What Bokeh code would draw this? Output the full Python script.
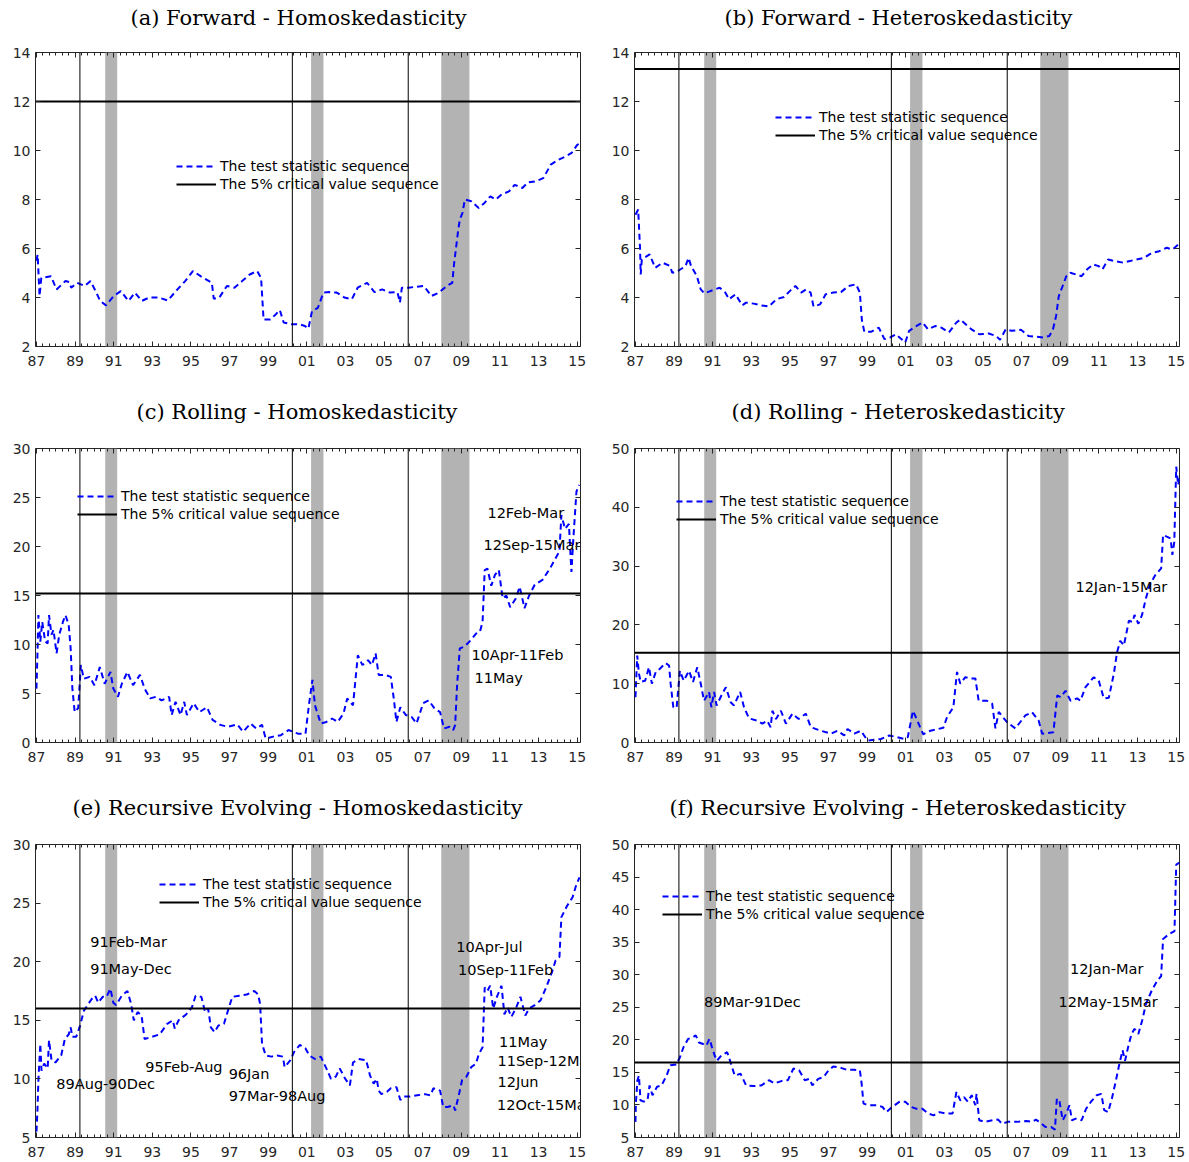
from bokeh.plotting import figure
from bokeh.layouts import column, row
from bokeh.models import (Range1d, FixedTicker, LinearAxis, Legend, LegendItem,
                          BoxAnnotation, Span, CustomLabelingPolicy)
from bokeh.core.properties import value
from bokeh.embed import file_html
from bokeh.resources import INLINE
import numpy as np

# ---------------- shared data ----------------
X_LO, X_HI = 1986.95, 2015.17
x_tick_years = [1987, 1989, 1991, 1993, 1995, 1997, 1999, 2001, 2003, 2005,
                2007, 2009, 2011, 2013, 2015]
x_tick_labels = ["87", "89", "91", "93", "95", "97", "99", "01", "03", "05",
                 "07", "09", "11", "13", "15"]
recession_start = [1990.56, 2001.22, 2007.96]
recession_end = [1991.18, 2001.86, 2009.42]
event_years = [1989.25, 2000.25, 2006.25]

# ---------------- (a) Forward - Homoskedasticity ----------------
a_year = [1987.00, 1987.06, 1987.16, 1987.25, 1987.75, 1988.04, 1988.50, 1988.70, 1988.80, 1989.10,
          1989.50, 1989.80, 1990.10, 1990.30, 1990.60, 1991.00, 1991.37, 1991.76, 1992.10, 1992.45,
          1992.84, 1993.33, 1993.80, 1994.30, 1994.70, 1995.10, 1995.50, 1995.78, 1996.08, 1996.18,
          1996.47, 1996.86, 1997.25, 1997.65, 1998.04, 1998.43, 1998.63, 1998.76, 1999.10, 1999.40,
          1999.60, 1999.80, 2000.20, 2000.60, 2000.90, 2001.08, 2001.27, 2001.57, 2001.86, 2002.16,
          2002.55, 2002.94, 2003.33, 2003.63, 2004.12, 2004.50, 2004.90, 2005.30, 2005.69, 2005.82,
          2005.92, 2006.27, 2006.67, 2007.06, 2007.45, 2007.84, 2008.24, 2008.53, 2008.63, 2008.82,
          2008.92, 2009.06, 2009.18, 2009.51, 2009.90, 2010.20, 2010.50, 2010.78, 2011.08, 2011.47,
          2011.76, 2012.16, 2012.45, 2012.84, 2013.24, 2013.63, 2014.02, 2014.41, 2014.71, 2015.00,
          2015.15]
a_stat = [5.5, 5.75, 4.06, 4.8, 4.87, 4.33, 4.67, 4.63, 4.4, 4.6,
          4.47, 4.67, 4.2, 3.86, 3.68, 4.06, 4.26, 3.86, 4.2, 3.86,
          4.0, 4.0, 3.88, 4.33, 4.67, 5.08, 4.87, 4.74, 4.6, 3.95,
          4.0, 4.47, 4.4, 4.67, 4.94, 5.08, 4.8, 3.1, 3.1, 3.32,
          3.49, 2.98, 2.91, 2.91, 2.84, 2.73, 3.45, 3.58, 4.2, 4.22,
          4.2, 4.0, 3.93, 4.4, 4.6, 4.22, 4.33, 4.2, 4.22, 3.79,
          4.4, 4.4, 4.44, 4.47, 4.06, 4.2, 4.47, 4.6, 5.42, 6.64,
          7.18, 7.45, 8.0, 7.93, 7.65, 7.86, 8.13, 8.0, 8.2, 8.33,
          8.6, 8.47, 8.7, 8.74, 8.87, 9.42, 9.62, 9.76, 9.9, 10.23,
          10.3]
a_crit = 12.0

# ---------------- (b) Forward - Heteroskedasticity ----------------
b_year = [1987.00, 1987.14, 1987.24, 1987.27, 1987.33, 1987.73, 1988.02, 1988.41, 1988.80, 1988.90,
          1989.20, 1989.59, 1989.75, 1989.88, 1990.18, 1990.38, 1990.57, 1990.87, 1991.36, 1991.65,
          1991.85, 1992.18, 1992.53, 1992.73, 1993.12, 1993.51, 1993.91, 1994.30, 1994.69, 1994.99,
          1995.28, 1995.58, 1995.83, 1996.07, 1996.22, 1996.56, 1996.85, 1997.24, 1997.64, 1998.03,
          1998.42, 1998.62, 1998.72, 1998.85, 1999.20, 1999.60, 1999.89, 2000.19, 2000.48, 2000.78,
          2000.97, 2001.17, 2001.56, 2001.86, 2002.15, 2002.54, 2002.84, 2003.23, 2003.62, 2003.82,
          2004.11, 2004.40, 2004.80, 2005.29, 2005.68, 2005.88, 2006.17, 2006.47, 2006.96, 2007.35,
          2007.74, 2008.13, 2008.43, 2008.62, 2008.78, 2008.92, 2009.12, 2009.31, 2009.51, 2009.80,
          2010.10, 2010.39, 2010.69, 2010.98, 2011.18, 2011.47, 2011.86, 2012.26, 2012.55, 2012.94,
          2013.33, 2013.73, 2014.12, 2014.51, 2014.81, 2015.10]
b_stat = [7.38, 7.59, 5.96, 4.94, 5.55, 5.76, 5.21, 5.42, 5.28, 5.01,
          5.08, 5.28, 5.62, 5.28, 4.87, 4.33, 4.17, 4.26, 4.4, 4.2,
          3.93, 4.13, 3.68, 3.79, 3.75, 3.68, 3.63, 3.93, 4.02, 4.26,
          4.47, 4.2, 4.33, 4.2, 3.63, 3.72, 4.13, 4.2, 4.22, 4.47,
          4.54, 4.2, 3.1, 2.6, 2.6, 2.77, 2.3, 2.37, 2.5, 2.3,
          2.16, 2.64, 2.84, 2.98, 2.7, 2.84, 2.77, 2.57, 2.98, 3.1,
          2.9, 2.7, 2.5, 2.53, 2.43, 2.27, 2.7, 2.64, 2.68, 2.43,
          2.4, 2.37, 2.43, 2.7, 3.25, 4.06, 4.47, 4.87, 5.01, 4.94,
          4.87, 5.15, 5.35, 5.28, 5.15, 5.55, 5.48, 5.42, 5.48, 5.55,
          5.62, 5.82, 5.89, 6.03, 5.96, 6.16]
b_crit = 13.33

# ---------------- (c) Rolling - Homoskedasticity ----------------
c_year = [1987.00, 1987.05, 1987.10, 1987.20, 1987.30, 1987.45, 1987.58, 1987.65, 1987.78, 1987.88,
          1988.04, 1988.18, 1988.37, 1988.50, 1988.67, 1988.77, 1988.86, 1988.98, 1989.16, 1989.30,
          1989.45, 1989.75, 1990.00, 1990.28, 1990.53, 1990.83, 1990.98, 1991.22, 1991.42, 1991.71,
          1992.00, 1992.36, 1992.60, 1992.89, 1993.18, 1993.48, 1993.87, 1994.00, 1994.20, 1994.46,
          1994.65, 1994.79, 1995.14, 1995.44, 1995.83, 1996.12, 1996.52, 1996.91, 1997.40, 1997.70,
          1998.09, 1998.38, 1998.68, 1998.87, 1999.26, 1999.66, 2000.05, 2000.54, 2000.93, 2001.13,
          2001.29, 2001.42, 2001.72, 2002.01, 2002.31, 2002.60, 2002.90, 2003.09, 2003.39, 2003.64,
          2003.88, 2004.17, 2004.37, 2004.56, 2004.72, 2005.05, 2005.35, 2005.50, 2005.64, 2005.84,
          2006.13, 2006.43, 2006.68, 2007.02, 2007.31, 2007.60, 2007.90, 2008.10, 2008.39, 2008.58,
          2008.68, 2008.78, 2008.92, 2009.17, 2009.47, 2009.76, 2009.96, 2010.10, 2010.21, 2010.35,
          2010.55, 2010.74, 2010.94, 2011.14, 2011.33, 2011.53, 2011.82, 2012.02, 2012.27, 2012.51,
          2012.80, 2013.20, 2013.59, 2013.88, 2014.08, 2014.18, 2014.37, 2014.57, 2014.70, 2014.80,
          2014.96, 2015.10]
c_stat = [5.5, 8.9, 13.0, 10.3, 12.3, 10.3, 10.1, 13.0, 11.0, 11.5,
          9.1, 11.0, 12.3, 13.0, 12.0, 9.6, 5.5, 3.1, 3.5, 7.9,
          6.5, 6.7, 5.85, 7.7, 6.0, 7.2, 5.5, 4.66, 6.0, 7.2,
          5.85, 6.9, 5.5, 4.5, 4.66, 4.3, 4.66, 2.8, 4.15, 2.8,
          4.15, 2.8, 4.0, 3.1, 3.6, 2.3, 1.8, 1.6, 1.84, 1.1,
          1.94, 1.43, 1.8, 0.4, 0.6, 0.75, 1.27, 0.9, 0.9, 4.15,
          6.4, 3.8, 1.94, 2.1, 2.45, 2.1, 2.96, 4.5, 3.8, 8.9,
          7.9, 8.4, 7.9, 9.1, 6.9, 6.9, 6.7, 4.5, 2.1, 3.6,
          2.8, 2.6, 1.94, 4.0, 4.3, 3.5, 3.1, 1.43, 1.6, 1.27,
          1.8, 5.85, 9.6, 9.8, 10.4, 11.1, 11.3, 12.3, 17.6, 17.75,
          16.0, 17.1, 17.6, 14.7, 15.0, 13.8, 14.7, 15.9, 13.7, 15.0,
          16.1, 16.6, 17.75, 18.8, 19.5, 23.2, 21.8, 22.3, 17.4, 20.8,
          25.6, 26.3]
c_crit = 15.2
c_notes = ["12Feb-Mar", "12Sep-15Mar", "10Apr-11Feb", "11May"]
c_note_x = [2010.35, 2010.15, 2009.52, 2009.68]
c_note_y = [23.4, 20.2, 8.9, 6.6]

# ---------------- (d) Rolling - Heteroskedasticity ----------------
d_year = [1987.00, 1987.09, 1987.18, 1987.27, 1987.50, 1987.70, 1987.85, 1988.05, 1988.25, 1988.56,
          1988.74, 1988.82, 1988.96, 1989.13, 1989.30, 1989.50, 1989.77, 1989.98, 1990.20, 1990.38,
          1990.55, 1990.81, 1990.93, 1991.07, 1991.20, 1991.45, 1991.68, 1991.93, 1992.10, 1992.42,
          1992.62, 1992.88, 1993.31, 1993.57, 1993.82, 1994.00, 1994.09, 1994.28, 1994.53, 1994.79,
          1995.13, 1995.45, 1995.82, 1996.08, 1996.60, 1997.12, 1997.46, 1997.81, 1997.98, 1998.33,
          1998.67, 1999.02, 1999.71, 2000.14, 2000.57, 2000.92, 2001.10, 2001.37, 2001.90, 2002.27,
          2002.94, 2003.13, 2003.46, 2003.65, 2003.82, 2004.08, 2004.34, 2004.60, 2004.77, 2005.20,
          2005.47, 2005.64, 2005.81, 2006.24, 2006.67, 2007.19, 2007.54, 2007.88, 2008.06, 2008.64,
          2008.84, 2009.02, 2009.27, 2009.53, 2009.87, 2010.04, 2010.30, 2010.73, 2010.99, 2011.25,
          2011.51, 2011.77, 2011.94, 2012.10, 2012.29, 2012.55, 2012.74, 2012.84, 2013.04, 2013.23,
          2013.43, 2013.63, 2013.92, 2014.22, 2014.32, 2014.51, 2014.71, 2014.80, 2014.90, 2015.00,
          2015.10, 2015.17]
d_stat = [7.7, 14.8, 11.7, 10.3, 10.5, 12.8, 10.0, 12.0, 12.5, 13.5,
          13.1, 10.0, 6.0, 5.9, 12.2, 10.5, 12.2, 10.3, 12.8, 10.0,
          7.1, 8.6, 6.0, 8.6, 6.3, 8.0, 9.4, 6.85, 6.3, 8.6,
          6.0, 4.1, 3.7, 3.2, 3.7, 2.6, 5.4, 4.0, 5.4, 3.2,
          4.9, 4.0, 4.9, 2.6, 2.0, 1.5, 2.0, 1.2, 2.3, 1.5,
          2.0, 0.34, 0.6, 1.2, 0.9, 0.6, 0.9, 5.4, 1.4, 2.0,
          2.5, 4.3, 6.0, 12.0, 10.0, 11.1, 10.9, 10.9, 7.1, 7.1,
          6.6, 2.4, 5.2, 3.45, 2.4, 4.6, 5.15, 3.7, 1.5, 1.75,
          8.0, 7.7, 8.8, 7.1, 7.5, 7.1, 9.4, 11.1, 10.5, 7.5,
          7.6, 11.7, 15.4, 17.3, 16.5, 20.7, 20.5, 21.7, 20.2, 21.7,
          24.5, 26.8, 28.5, 29.6, 35.3, 35.0, 34.7, 31.9, 34.1, 46.9,
          43.8, 44.9]
d_crit = 15.25
d_notes = ["12Jan-15Mar"]
d_note_x = [2009.78]
d_note_y = [26.5]

# ---------------- (e) Recursive Evolving - Homoskedasticity ----------------
e_year = [1987.00, 1987.05, 1987.10, 1987.20, 1987.26, 1987.40, 1987.58, 1987.65, 1987.78, 1987.98,
          1988.28, 1988.47, 1988.67, 1988.77, 1988.86, 1989.06, 1989.26, 1989.45, 1989.69, 1989.85,
          1990.04, 1990.20, 1990.43, 1990.63, 1990.83, 1990.98, 1991.12, 1991.42, 1991.71, 1991.90,
          1992.04, 1992.24, 1992.44, 1992.60, 1992.99, 1993.38, 1993.77, 1994.06, 1994.16, 1994.36,
          1994.75, 1995.05, 1995.24, 1995.54, 1995.73, 1995.89, 1996.03, 1996.22, 1996.42, 1996.71,
          1996.91, 1997.14, 1997.50, 1997.89, 1998.28, 1998.48, 1998.58, 1998.68, 1998.87, 1999.17,
          1999.46, 1999.76, 1999.85, 2000.15, 2000.34, 2000.64, 2000.93, 2001.13, 2001.42, 2001.72,
          2002.01, 2002.25, 2002.50, 2002.70, 2002.99, 2003.23, 2003.39, 2003.68, 2004.07, 2004.27,
          2004.46, 2004.62, 2004.72, 2004.86, 2005.15, 2005.35, 2005.64, 2005.84, 2006.03, 2006.33,
          2006.72, 2007.11, 2007.41, 2007.55, 2007.90, 2008.06, 2008.29, 2008.59, 2008.68, 2008.88,
          2009.04, 2009.27, 2009.51, 2009.76, 2009.90, 2010.10, 2010.21, 2010.35, 2010.49, 2010.65,
          2010.84, 2011.08, 2011.23, 2011.39, 2011.59, 2011.82, 2012.06, 2012.31, 2012.51, 2012.80,
          2013.10, 2013.39, 2013.69, 2013.88, 2014.08, 2014.18, 2014.47, 2014.76, 2014.96, 2015.12]
e_stat = [5.5, 7.3, 9.9, 13.0, 10.7, 11.3, 10.9, 13.3, 11.6, 11.4,
          12.0, 13.4, 13.8, 14.4, 13.6, 13.6, 14.55, 15.8, 16.4, 16.8,
          17.1, 16.5, 17.0, 17.0, 17.7, 16.5, 16.3, 17.1, 17.5, 16.4,
          15.0, 15.7, 15.4, 13.4, 13.6, 13.8, 14.7, 15.0, 14.3, 15.0,
          15.5, 16.1, 17.1, 17.0, 15.7, 16.0, 14.4, 14.0, 14.55, 14.7,
          15.8, 17.0, 17.1, 17.2, 17.5, 17.2, 16.4, 13.0, 12.0, 11.9,
          12.0, 11.9, 11.0, 11.6, 12.3, 12.9, 12.6, 12.0, 11.7, 11.9,
          10.9, 10.0, 10.2, 10.9, 10.0, 9.45, 11.4, 11.7, 11.6, 10.3,
          9.6, 10.0, 9.0, 8.7, 8.9, 9.2, 9.3, 8.2, 8.5, 8.5,
          8.6, 8.7, 8.6, 9.2, 9.0, 7.6, 7.6, 7.75, 7.3, 8.7,
          9.9, 10.2, 11.0, 11.3, 12.1, 12.7, 17.8, 17.5, 17.95, 16.0,
          17.0, 17.95, 15.5, 16.1, 15.3, 16.0, 17.0, 15.4, 16.0, 16.3,
          16.7, 17.8, 19.1, 20.1, 20.4, 23.8, 24.75, 25.5, 26.6, 27.2]
e_crit = 16.0
e_notes = ["91Feb-Mar", "91May-Dec", "89Aug-90Dec", "95Feb-Aug", "96Jan", "97Mar-98Aug",
           "10Apr-Jul", "10Sep-11Feb", "11May", "11Sep-12Mar", "12Jun", "12Oct-15Mar"]
e_note_x = [1989.78, 1989.78, 1988.03, 1992.63, 1996.95, 1996.95,
            2008.74, 2008.83, 2010.95, 2010.87, 2010.87, 2010.85]
e_note_y = [21.7, 19.4, 9.6, 11.0, 10.4, 8.5,
            21.25, 19.25, 13.15, 11.55, 9.75, 7.75]

# ---------------- (f) Recursive Evolving - Heteroskedasticity ----------------
f_year = [1987.00, 1987.02, 1987.10, 1987.18, 1987.26, 1987.43, 1987.63, 1987.73, 1987.88, 1988.12,
          1988.35, 1988.61, 1988.81, 1989.10, 1989.30, 1989.49, 1989.73, 1989.98, 1990.12, 1990.28,
          1990.47, 1990.67, 1990.83, 1990.96, 1991.10, 1991.22, 1991.45, 1991.75, 1991.95, 1992.14,
          1992.44, 1992.73, 1993.12, 1993.52, 1993.91, 1994.20, 1994.59, 1994.89, 1995.18, 1995.48,
          1995.77, 1996.01, 1996.16, 1996.46, 1996.75, 1996.99, 1997.24, 1997.64, 1997.93, 1998.32,
          1998.62, 1998.71, 1998.81, 1999.11, 1999.50, 1999.79, 1999.99, 2000.29, 2000.68, 2000.97,
          2001.27, 2001.56, 2001.86, 2002.15, 2002.44, 2002.74, 2003.03, 2003.42, 2003.62, 2003.82,
          2004.01, 2004.21, 2004.41, 2004.60, 2004.66, 2004.80, 2005.09, 2005.49, 2005.78, 2005.98,
          2006.27, 2006.76, 2007.25, 2007.55, 2007.74, 2008.04, 2008.23, 2008.53, 2008.72, 2008.82,
          2008.96, 2009.12, 2009.31, 2009.47, 2009.60, 2009.80, 2010.10, 2010.33, 2010.59, 2010.88,
          2011.12, 2011.27, 2011.47, 2011.67, 2011.86, 2012.02, 2012.22, 2012.35, 2012.55, 2012.69,
          2012.84, 2013.04, 2013.24, 2013.43, 2013.73, 2014.02, 2014.22, 2014.32, 2014.61, 2014.91,
          2015.00, 2015.17]
f_stat = [7.4, 10.2, 13.8, 14.5, 10.7, 10.5, 10.8, 13.0, 11.5, 12.8,
          13.0, 14.5, 16.1, 16.2, 17.3, 18.9, 20.15, 20.4, 20.7, 19.6,
          19.4, 19.1, 20.15, 18.9, 17.6, 16.8, 17.6, 18.1, 16.3, 14.5,
          14.8, 13.0, 12.9, 13.0, 13.8, 13.3, 13.7, 13.8, 15.6, 15.3,
          13.8, 14.0, 13.0, 14.0, 14.3, 15.3, 15.9, 15.7, 15.4, 15.4,
          15.3, 13.3, 10.2, 9.95, 9.95, 9.7, 8.9, 9.7, 10.5, 10.5,
          9.7, 9.4, 9.4, 8.7, 8.4, 8.9, 8.7, 8.7, 12.0, 10.7,
          11.2, 10.5, 11.5, 9.95, 11.7, 7.65, 7.4, 7.65, 7.75, 7.1,
          7.4, 7.4, 7.55, 7.4, 7.75, 7.1, 6.6, 6.6, 6.2, 11.0,
          10.5, 7.65, 8.7, 9.95, 7.65, 7.9, 7.65, 9.4, 10.5, 11.5,
          11.7, 9.2, 8.9, 11.0, 13.5, 15.8, 18.4, 16.8, 19.4, 20.9,
          21.7, 20.9, 23.0, 25.5, 27.55, 29.1, 29.8, 35.5, 36.2, 36.7,
          46.9, 47.2]
f_crit = 16.5
f_notes = ["89Mar-91Dec", "12Jan-Mar", "12May-15Mar"]
f_note_x = [1990.55, 2009.5, 2008.9]
f_note_y = [25.8, 30.9, 25.8]

TICK_COLOR = "#262626"
FRAME_W = 545

NO_LABELS = ("for (let i = 0; i < indices.size; i++) { indices.unset(i) }\n"
             "return indices")


def make_panel(title, xs, ys, crit, y_lo, y_hi, y_step, leg_x, leg_y,
               notes, note_x, note_y, col, row_idx, title_off):
    left_b = 35 if col == 0 else 36
    right_b = 18 if col == 0 else 8
    top_b = 52
    last_row = row_idx == 2
    frame_h = 293 if last_row else 294
    bottom_b = 24 if last_row else 50
    p = figure(width=left_b + FRAME_W + right_b, height=top_b + frame_h + bottom_b,
               x_range=Range1d(X_LO, X_HI), y_range=Range1d(y_lo, y_hi),
               output_backend="svg", toolbar_location=None,
               x_axis_type=None, y_axis_type=None,
               min_border_left=left_b, min_border_right=right_b,
               min_border_top=top_b, min_border_bottom=bottom_b)
    p.background_fill_color = "white"
    p.border_fill_color = "white"
    p.outline_line_color = TICK_COLOR
    p.outline_line_width = 1

    p.title.text = title
    p.title.text_font = "DejaVu Serif"
    p.title.text_font_size = "21px"
    p.title.text_font_style = "normal"
    p.title.text_color = "black"
    p.title.align = "left"
    p.title.offset = title_off
    p.title.standoff = 0

    x_minor = list(np.arange(1987.0, 2015.2, 1.0 / 3.0))
    xt = FixedTicker(ticks=x_tick_years, minor_ticks=x_minor)
    yt = FixedTicker(ticks=list(np.arange(y_lo, y_hi + 0.01, y_step)), minor_ticks=[])

    def style(ax, labels):
        ax.axis_line_color = None
        ax.major_tick_in = 5
        ax.major_tick_out = 0
        ax.minor_tick_in = 3
        ax.minor_tick_out = 0
        ax.major_tick_line_color = TICK_COLOR
        ax.minor_tick_line_color = TICK_COLOR
        ax.major_label_text_font = "DejaVu Sans"
        ax.major_label_text_color = TICK_COLOR
        if labels:
            ax.major_label_text_font_size = "14px"
        else:
            ax.major_label_policy = CustomLabelingPolicy(code=NO_LABELS)
            ax.major_label_text_font_size = "0px"
            ax.major_label_standoff = 0

    xb = LinearAxis(ticker=xt)
    style(xb, True)
    xb.major_label_overrides = {yr: lab for yr, lab in zip(x_tick_years, x_tick_labels)}
    xb.major_label_standoff = 9
    p.add_layout(xb, "below")
    # top mirror ticks
    xa = LinearAxis(ticker=xt)
    style(xa, False)
    p.add_layout(xa, "above")
    # invisible spacer lifting the title above the frame
    spacer = LinearAxis(ticker=xt)
    style(spacer, False)
    spacer.major_tick_in = 0
    spacer.minor_tick_in = 0
    spacer.major_tick_out = 23 if row_idx == 0 else 25
    spacer.major_tick_line_color = None
    spacer.minor_tick_line_color = None
    p.add_layout(spacer, "above")

    yl = LinearAxis(ticker=yt)
    style(yl, True)
    yl.minor_tick_in = 0
    yl.major_label_standoff = 5
    p.add_layout(yl, "left")
    yr_ax = LinearAxis(ticker=yt)
    style(yr_ax, False)
    yr_ax.minor_tick_in = 0
    p.add_layout(yr_ax, "right")

    for s, e in zip(recession_start, recession_end):
        p.add_layout(BoxAnnotation(left=s, right=e, fill_color="#b3b3b3", fill_alpha=1.0,
                                   line_color=None, level="underlay"))

    r_stat = p.line(xs, ys, line_color="#0000ff", line_width=2, line_dash="6 4")
    r_crit = p.line([X_LO, X_HI], [crit, crit], line_color="black", line_width=2)

    for ev in event_years:
        p.add_layout(Span(location=ev, dimension="height", line_color="black", line_width=1))

    if notes:
        p.text(x=note_x, y=note_y, text=notes, text_font=value("DejaVu Sans"),
               text_font_size=value("14.5px"), text_baseline="middle", text_align="left",
               text_color="black")

    leg = Legend(items=[LegendItem(label="The test statistic sequence", renderers=[r_stat]),
                        LegendItem(label="The 5% critical value sequence", renderers=[r_crit])],
                 location=(leg_x, leg_y), orientation="vertical",
                 glyph_width=40, glyph_height=18, label_height=18, label_standoff=4,
                 spacing=0, padding=0, margin=0, border_line_color=None,
                 background_fill_alpha=0.0, label_text_font="DejaVu Sans",
                 label_text_font_size="14px", label_text_color="black")
    p.add_layout(leg)
    return p


pa = make_panel("(a) Forward - Homoskedasticity", a_year, a_stat, a_crit, 2, 14, 2,
                141, 153, [], [], [], 0, 0, 95)
pb = make_panel("(b) Forward - Heteroskedasticity", b_year, b_stat, b_crit, 2, 14, 2,
                141, 202, [], [], [], 1, 0, 90)
pc = make_panel("(c) Rolling - Homoskedasticity", c_year, c_stat, c_crit, 0, 30, 5,
                42, 219, c_notes, c_note_x, c_note_y, 0, 1, 101)
pd_ = make_panel("(d) Rolling - Heteroskedasticity", d_year, d_stat, d_crit, 0, 50, 10,
                 42, 214, d_notes, d_note_x, d_note_y, 1, 1, 97)
pe = make_panel("(e) Recursive Evolving - Homoskedasticity", e_year, e_stat, e_crit, 5, 30, 5,
                124, 226, e_notes, e_note_x, e_note_y, 0, 2, 37)
pf = make_panel("(f) Recursive Evolving - Heteroskedasticity", f_year, f_stat, f_crit, 5, 50, 5,
                28, 214, f_notes, f_note_x, f_note_y, 1, 2, 35)

layout = column(row(pa, pb), row(pc, pd_), row(pe, pf))
open("out.html", "w").write(file_html(layout, INLINE, "Test statistic sequences"))
